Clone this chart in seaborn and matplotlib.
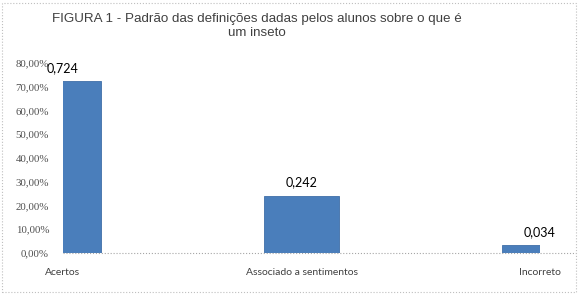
import matplotlib
matplotlib.use("Agg")
import matplotlib.pyplot as plt
import seaborn as sns
import pandas as pd
from matplotlib.patches import Rectangle
from matplotlib.ticker import FuncFormatter

categories = ["Acertos", "Associado a sentimentos", "Incorreto"]
values = [0.724, 0.242, 0.034]
value_labels = ["0,724", "0,242", "0,034"]
title = "FIGURA 1 - Padrão das definições dadas pelos alunos sobre o que é\num inseto"

df = pd.DataFrame({"cat": categories, "val": values})

sns.set_style("white")
fig = plt.figure(figsize=(5.78, 2.95), dpi=100)
ax = fig.add_axes([63/578, 1-253/295, (540-63)/578, (253-63)/295])

sns.barplot(data=df, x="cat", y="val", ax=ax, color="#4A7EBB", width=0.315,
            edgecolor="#3F6FA8", linewidth=0.6, saturation=1)
for p in ax.patches:
    p.set_clip_on(True)

ax.set_xlim(0, 2)
ax.set_ylim(0, 0.8)
ax.set_yticks([i/10 for i in range(9)])
ax.yaxis.set_major_formatter(FuncFormatter(lambda v, _: f"{v*100:.2f}%".replace(".", ",")))
for lbl in ax.get_yticklabels():
    lbl.set_family("Liberation Serif")
ax.tick_params(axis="y", labelsize=7.8, labelcolor="#505050", length=0, pad=10)
ax.tick_params(axis="x", labelsize=7.5, labelcolor="#404040", length=0, pad=11)
for lbl in ax.get_xticklabels():
    lbl.set_family("Lato")
ax.set_xlabel("")
ax.set_ylabel("")
for s in ax.spines.values():
    s.set_visible(False)
ax.axhline(0, xmin=0, xmax=(576-63)/(540-63), color="#A6A6A6", lw=0.8, ls=":", clip_on=False)

for i, (v, t) in enumerate(zip(values, value_labels)):
    ax.annotate(t, (i, v), xytext=(0, 5), textcoords="offset points", ha="center",
                va="bottom", fontsize=9, family="Lato", color="#000000")

fig.text(257/578, 1-13/295, title, ha="center", va="top", fontsize=9.6,
         family="Liberation Sans", color="#404040", linespacing=1.2)

fig.patches.append(Rectangle((2/578, 3/295), 574/578, 289/295, transform=fig.transFigure,
                             fill=False, ec="#BFBFBF", lw=0.8, ls=":"))

fig.savefig("out.png", dpi=100)
